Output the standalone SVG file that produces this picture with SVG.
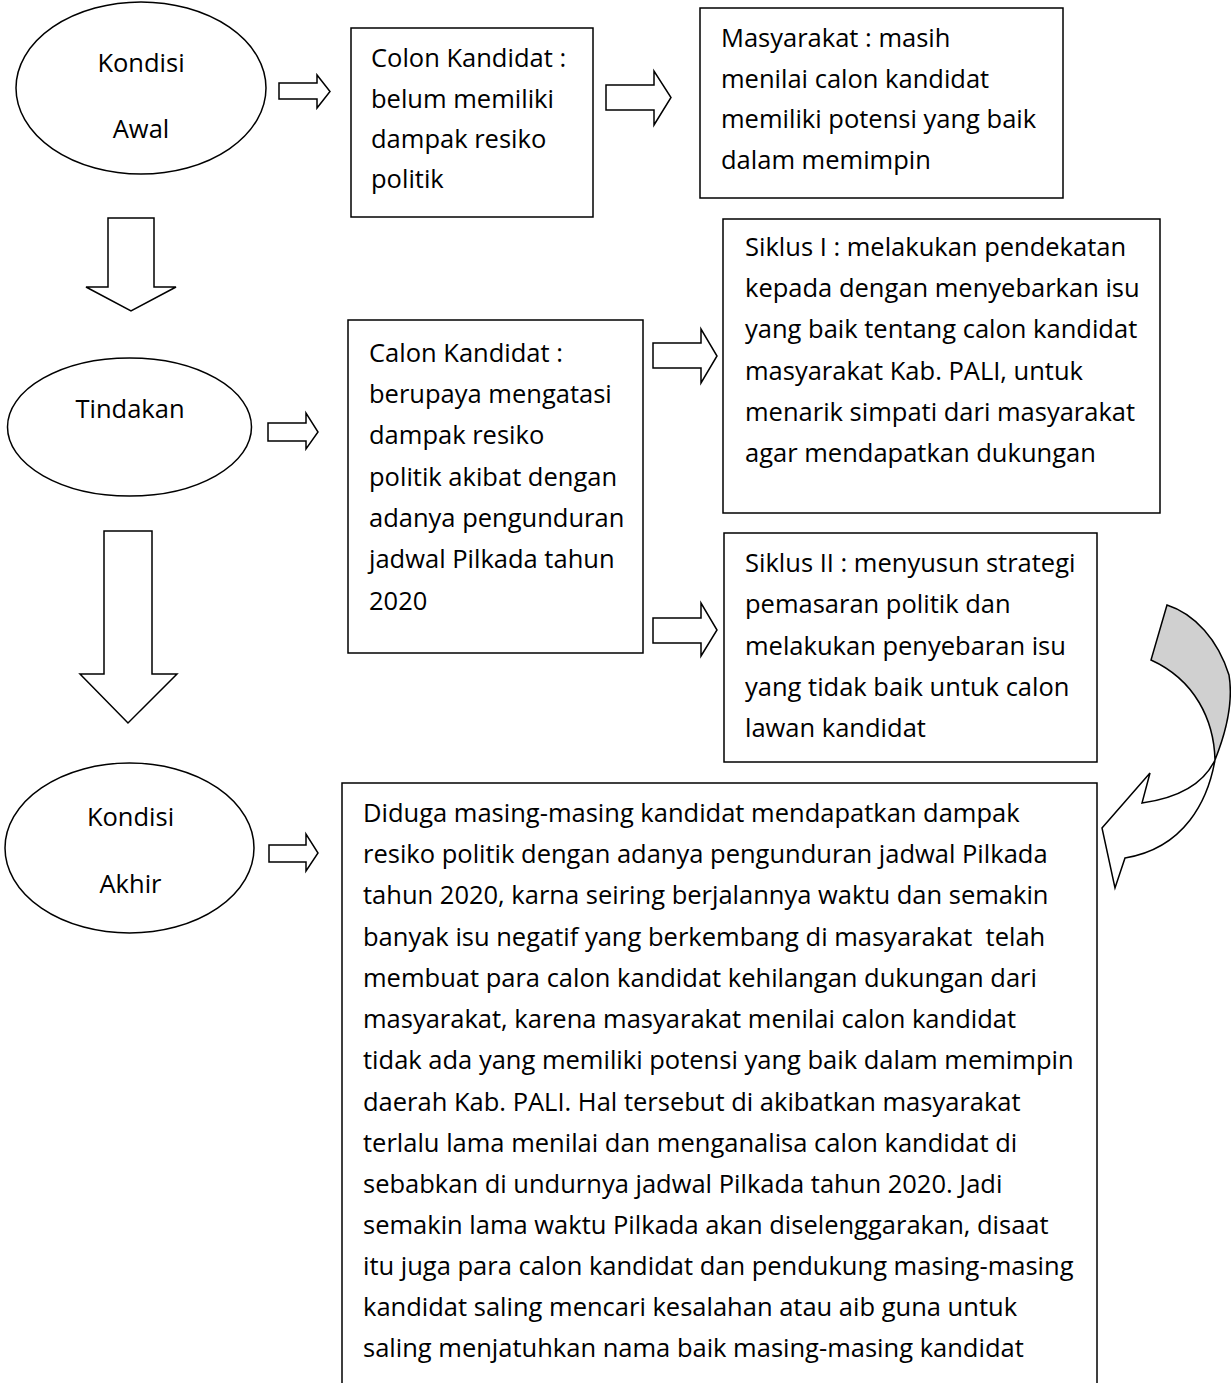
<svg xmlns="http://www.w3.org/2000/svg" width="1231" height="1383" viewBox="0 0 1231 1383">
<style>
.s{fill:#fff;stroke:#000;stroke-width:1.5}
.t{font-family:"Open Sans","Noto Sans","Liberation Sans",sans-serif;font-size:25.5px;fill:#000}
.c{text-anchor:middle}
.p{white-space:pre}
.g{fill:#d0d0d0;stroke:#000;stroke-width:1.5}
</style>
<rect width="1231" height="1383" fill="#fff"/>
<g id="kondisi-awal">
<ellipse class="s" cx="141" cy="88" rx="125" ry="86"/>
<text class="t c" x="141" y="72">Kondisi</text>
<text class="t c" x="141" y="138">Awal</text>
</g>
<g id="tindakan">
<ellipse class="s" cx="129.5" cy="427" rx="122" ry="69"/>
<text class="t c" x="130" y="418">Tindakan</text>
</g>
<g id="kondisi-akhir">
<ellipse class="s" cx="129.5" cy="848" rx="124.5" ry="85"/>
<text class="t c" x="130.5" y="826">Kondisi</text>
<text class="t c" x="130.5" y="893">Akhir</text>
</g>
<g id="colon-kandidat">
<rect class="s" x="351" y="28" width="242" height="189"/>
<text class="t"><tspan x="371" y="67">Colon Kandidat :</tspan><tspan x="371" y="108">belum memiliki</tspan><tspan x="371" y="148">dampak resiko</tspan><tspan x="371" y="188">politik</tspan></text>
</g>
<g id="masyarakat">
<rect class="s" x="700" y="8" width="363" height="190"/>
<text class="t"><tspan x="721" y="47">Masyarakat : masih</tspan><tspan x="721" y="88">menilai calon kandidat</tspan><tspan x="721" y="128">memiliki potensi yang baik</tspan><tspan x="721" y="169">dalam memimpin</tspan></text>
</g>
<g id="siklus-1">
<rect class="s" x="723" y="219" width="437" height="294"/>
<text class="t"><tspan x="745" y="256">Siklus I : melakukan pendekatan</tspan><tspan x="745" y="297">kepada dengan menyebarkan isu</tspan><tspan x="745" y="338">yang baik tentang calon kandidat</tspan><tspan x="745" y="380">masyarakat Kab. PALI, untuk</tspan><tspan x="745" y="421">menarik simpati dari masyarakat</tspan><tspan x="745" y="462">agar mendapatkan dukungan</tspan></text>
</g>
<g id="calon-kandidat">
<rect class="s" x="348" y="320" width="295" height="333"/>
<text class="t"><tspan x="369" y="362">Calon Kandidat :</tspan><tspan x="369" y="403">berupaya mengatasi</tspan><tspan x="369" y="444">dampak resiko</tspan><tspan x="369" y="486">politik akibat dengan</tspan><tspan x="369" y="527">adanya pengunduran</tspan><tspan x="369" y="568">jadwal Pilkada tahun</tspan><tspan x="369" y="610">2020</tspan></text>
</g>
<g id="siklus-2">
<rect class="s" x="724" y="533" width="373" height="229"/>
<text class="t"><tspan x="745" y="572">Siklus II : menyusun strategi</tspan><tspan x="745" y="613">pemasaran politik dan</tspan><tspan x="745" y="655">melakukan penyebaran isu</tspan><tspan x="745" y="696">yang tidak baik untuk calon</tspan><tspan x="745" y="737">lawan kandidat</tspan></text>
</g>
<g id="kesimpulan">
<rect class="s" x="342" y="783" width="755" height="640"/>
<text class="t"><tspan x="363" y="822">Diduga masing-masing kandidat mendapatkan dampak</tspan><tspan x="363" y="863">resiko politik dengan adanya pengunduran jadwal Pilkada</tspan><tspan x="363" y="904">tahun 2020, karna seiring berjalannya waktu dan semakin</tspan><tspan class="p" x="363" y="946">banyak isu negatif yang berkembang di masyarakat  telah</tspan><tspan x="363" y="987">membuat para calon kandidat kehilangan dukungan dari</tspan><tspan x="363" y="1028">masyarakat, karena masyarakat menilai calon kandidat</tspan><tspan x="363" y="1069">tidak ada yang memiliki potensi yang baik dalam memimpin</tspan><tspan x="363" y="1111">daerah Kab. PALI. Hal tersebut di akibatkan masyarakat</tspan><tspan x="363" y="1152">terlalu lama menilai dan menganalisa calon kandidat di</tspan><tspan x="363" y="1193">sebabkan di undurnya jadwal Pilkada tahun 2020. Jadi</tspan><tspan x="363" y="1234">semakin lama waktu Pilkada akan diselenggarakan, disaat</tspan><tspan x="363" y="1275">itu juga para calon kandidat dan pendukung masing-masing</tspan><tspan x="363" y="1316">kandidat saling mencari kesalahan atau aib guna untuk</tspan><tspan x="363" y="1357">saling menjatuhkan nama baik masing-masing kandidat</tspan></text>
</g>
<g id="connectors">
<polygon class="s" points="279,83 317,83 317,75 330,91.5 317,108 317,99 279,99"/>
<polygon class="s" points="606,85 654,85 654,71 671,97.5 654,125 654,110 606,110"/>
<polygon class="s" points="653,343 701,343 701,329 717,356 701,383 701,368 653,368"/>
<polygon class="s" points="653,618 701,618 701,603 717,630 701,656 701,643 653,643"/>
<polygon class="s" points="268,423 306,423 306,413 318,432 306,449 306,441 268,441"/>
<polygon class="s" points="269,845 306,845 306,834 318,853 306,871 306,862 269,862"/>
<polygon class="s" points="108,218 154,218 154,287 176,287 131,311 86,287 108,287"/>
<polygon class="s" points="104,531 152,531 152,674 177,674 128,723 80,674 104,674"/>
<path class="g" d="M1167,605 C1195,614 1218,640 1229,675 C1234,705 1225,735 1215,760 C1214,720 1195,680 1151,660 Z"/>
<path class="s" d="M1215,760 C1208,800 1185,848 1125,858 L1115,888 L1102,828 L1150,773 L1142,803 C1178,798 1203,785 1215,760 Z"/>
</g>
</svg>
